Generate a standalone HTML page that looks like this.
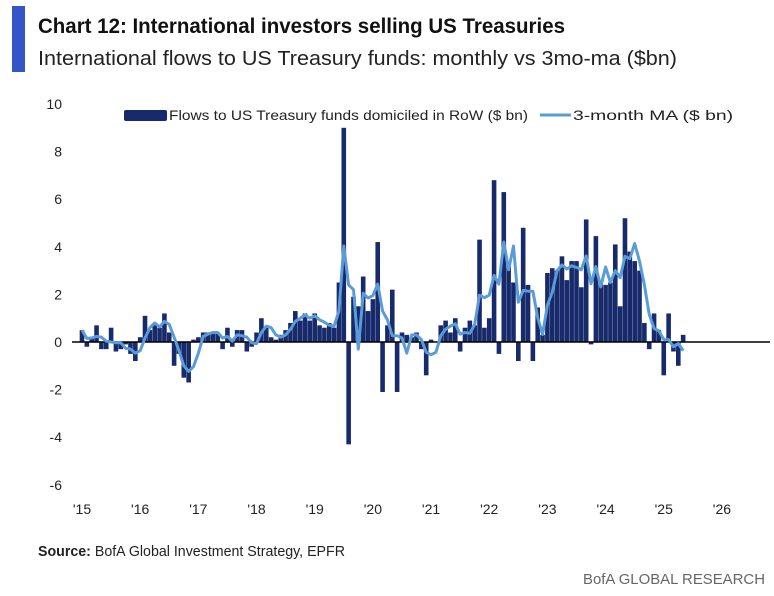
<!DOCTYPE html>
<html><head><meta charset="utf-8"><style>
html,body{margin:0;padding:0;background:#fff;}
svg{display:block;font-family:"Liberation Sans",sans-serif;}
</style></head><body>
<svg id="chart" width="774" height="596" viewBox="0 0 774 596">
<rect x="12" y="6" width="13" height="66" fill="#3355c8"/>
<text x="38" y="33" font-size="21" font-weight="bold" fill="#111" textLength="527" lengthAdjust="spacingAndGlyphs">Chart 12: International investors selling US Treasuries</text>
<text x="38" y="65" font-size="20" fill="#222" textLength="639" lengthAdjust="spacingAndGlyphs">International flows to US Treasury funds: monthly vs 3mo-ma ($bn)</text>
<g id="yaxis"></g>
<g id="xaxis"></g>
<g id="bars"></g>
<line id="zero" x1="72" x2="770" stroke="#000" stroke-width="1.5"/>
<path id="ma" fill="none" stroke="#5b9bd8" stroke-width="3" stroke-linejoin="round"/>
<g>
<rect x="124" y="110" width="43" height="11" rx="2" fill="#172a6b"/>
<text x="169" y="120" font-size="14" fill="#222" textLength="359" lengthAdjust="spacingAndGlyphs">Flows to US Treasury funds domiciled in RoW ($ bn)</text>
<line x1="540" x2="571" y1="115" y2="115" stroke="#5b9bd8" stroke-width="3"/>
<text x="573" y="120" font-size="14" fill="#222" textLength="160" lengthAdjust="spacingAndGlyphs">3-month MA ($ bn)</text>
</g>
<text x="38" y="556" font-size="15" fill="#222" textLength="307" lengthAdjust="spacingAndGlyphs"><tspan font-weight="bold">Source:</tspan> BofA Global Investment Strategy, EPFR</text>
<text x="583" y="584" font-size="15" fill="#666" textLength="182" lengthAdjust="spacingAndGlyphs">BofA GLOBAL RESEARCH</text>
</svg>
<script>
const flows = [0.5,-0.2,0.2,0.7,-0.3,-0.3,0.6,-0.4,-0.3,-0.1,-0.5,-0.8,
0.2,1.1,0.5,0.8,0.6,1.2,0.4,-1.0,-0.5,-1.5,-1.7,0.1,
0.2,0.4,0.4,0.4,0.4,-0.3,0.6,-0.2,0.5,0.5,-0.4,-0.2,
0.4,1.0,0.6,0.2,0.1,0.3,0.5,0.8,1.3,0.9,1.2,0.9,
1.2,0.7,0.6,0.8,0.6,2.5,9.0,-4.3,1.9,1.5,2.75,1.3,
1.8,4.2,-2.1,0.7,2.2,-2.1,0.4,0.3,0.2,0.4,-0.3,-1.4,
0.1,0.0,0.7,0.9,0.4,1.0,-0.4,0.6,0.9,0.7,4.3,0.6,
1.0,6.8,-0.5,6.3,3.3,2.5,-0.8,4.8,2.4,-0.8,1.45,0.3,
2.9,3.1,3.0,3.6,2.6,3.4,3.4,2.3,5.15,-0.1,4.45,2.6,
2.4,2.5,4.1,1.5,5.2,3.8,3.4,3.0,0.8,-0.3,1.2,0.5,
-1.4,1.2,-0.4,-1.0,0.3];
const yTicks = [10,8,6,4,2,0,-2,-4,-6];
const yTickLabels = ["10","8","6","4","2","0","-2","-4","-6"];
const xTickLabels = ["'15","'16","'17","'18","'19","'20","'21","'22","'23","'24","'25","'26"];
const startYear = 2015;

const ns = "http://www.w3.org/2000/svg";
const yScale = v => 342 - v * 23.8;
const xScale = m => 82 + m * 4.848; // months since Jan 2015
function mk(tag, attrs, parent){const e=document.createElementNS(ns,tag);for(const k in attrs)e.setAttribute(k,attrs[k]);parent.appendChild(e);return e;}

const ya = document.getElementById('yaxis');
yTicks.forEach((v,i)=>{
  const t = mk('text',{x:62,y:yScale(v)+5,'text-anchor':'end','font-size':14,fill:'#222'},ya);
  
  
  t.textContent = yTickLabels[i];
});
const xa = document.getElementById('xaxis');
xTickLabels.forEach((l,i)=>{
  const t = mk('text',{x:xScale(i*12),y:514,'text-anchor':'middle','font-size':14,fill:'#222'},xa);
  
  
  t.textContent = l;
});
document.getElementById('zero').setAttribute('y1',yScale(0));
document.getElementById('zero').setAttribute('y2',yScale(0));

const bg = document.getElementById('bars');
flows.forEach((v,i)=>{
  const y0 = yScale(0), y1 = yScale(v);
  const r = mk('rect',{x:xScale(i)-2.3,y:Math.min(y0,y1),width:4.6,height:Math.max(0.5,Math.abs(y1-y0)),fill:'#172a6b'},bg);
  
  
});
let d='';
flows.forEach((v,i)=>{
  const w = flows.slice(Math.max(0,i-2),i+1);
  const m = w.reduce((a,b)=>a+b,0)/w.length;
  d += (i?'L':'M')+xScale(i).toFixed(1)+','+yScale(m).toFixed(1);
});
document.getElementById('ma').setAttribute('d',d);
</script>
</body></html>
